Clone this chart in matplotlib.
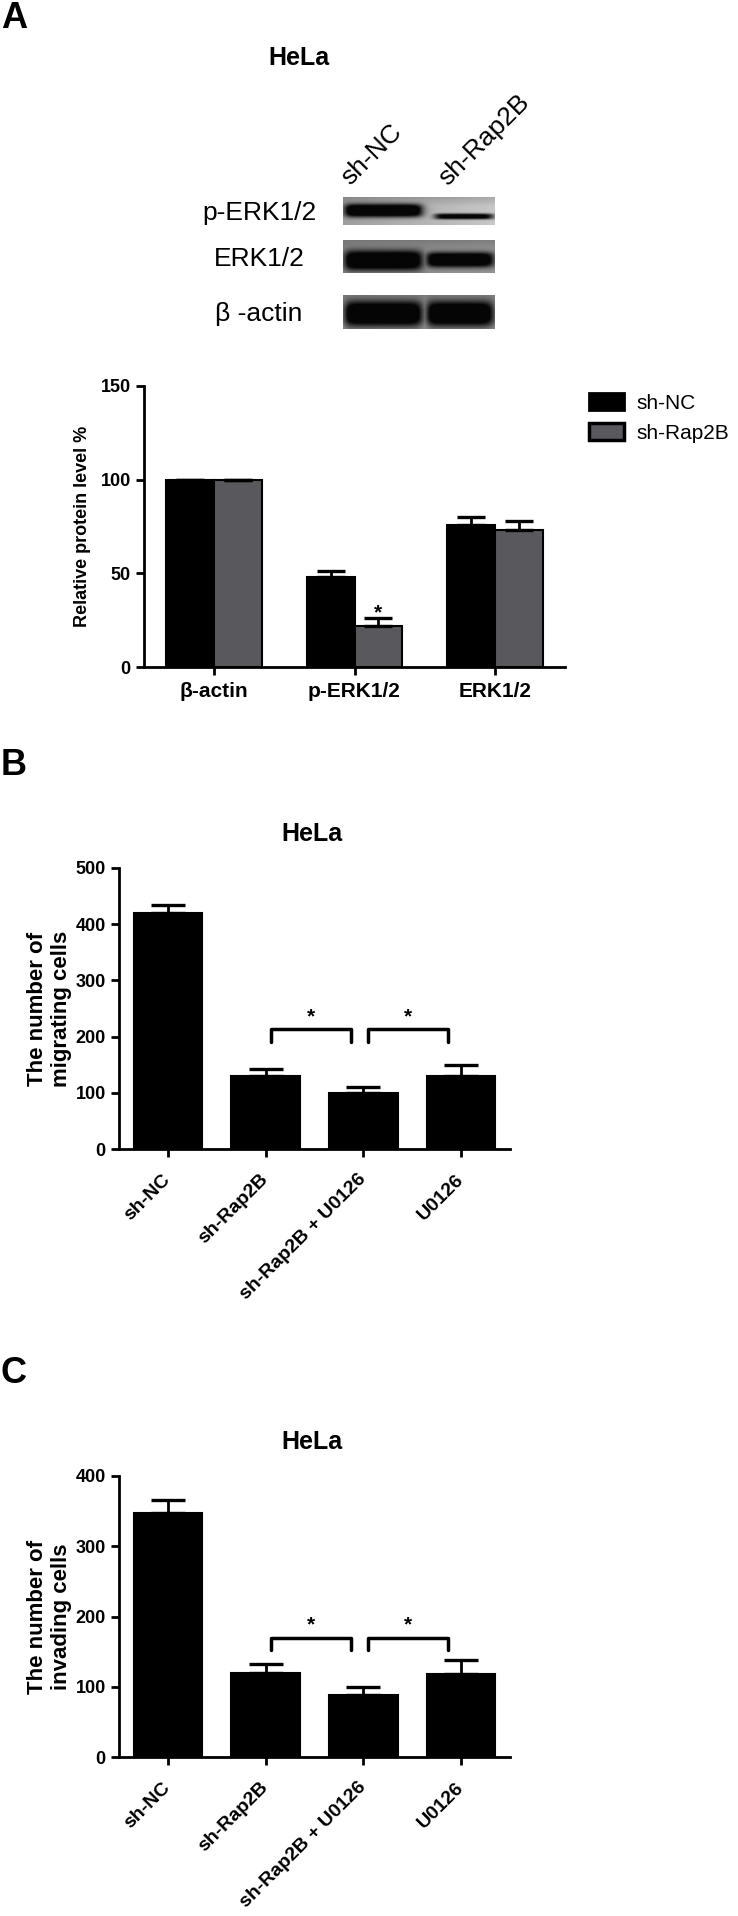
import numpy as np
import matplotlib
matplotlib.use('Agg')
import matplotlib.pyplot as plt
from matplotlib.patches import Patch

plt.rcParams['font.family'] = ['Liberation Sans', 'DejaVu Sans']

# panel A: western blot quantification
proteins = ['β-actin', 'p-ERK1/2', 'ERK1/2']
nc_level = [100, 48, 76]
nc_err = [0, 3, 4]
rap_level = [100, 22, 73]
rap_err = [0, 4, 5]
series_names = ['sh-NC', 'sh-Rap2B']

# blot bands, one entry per row, [sh-NC lane, sh-Rap2B lane]
blot_rows = ['p-ERK1/2', 'ERK1/2', 'β -actin']
blot_lanes = ['sh-NC', 'sh-Rap2B']
band_strength = [[1.0, 0.8], [1.0, 1.0], [1.0, 1.0]]
band_half = [[0.25, 0.11], [0.32, 0.24], [0.40, 0.40]]
band_center = [[0.48, 0.70], [0.62, 0.60], [0.55, 0.55]]
blot_bg = [[0.60, 0.76], [0.52, 0.56], [0.56, 0.58]]

# panels B and C
groups = ['sh-NC', 'sh-Rap2B', 'sh-Rap2B + U0126', 'U0126']
migrating = [420, 130, 100, 130]
migrating_err = [15, 12, 10, 20]
invading = [348, 120, 88, 118]
invading_err = [18, 13, 12, 20]
sig_pairs = [(1, 2), (2, 3)]
sig_mig = 213
sig_inv = 170

W, H = 738, 1916
GRAY = '#59595d'


def fx(x):
    return x / W


def fy(y):
    return 1 - y / H


def axes_px(fig, x0, x1, y0, y1):
    return fig.add_axes([fx(x0), fy(y1), (x1 - x0) / W, (y1 - y0) / H])


def style(ax, ymax, step):
    for s in ['top', 'right']:
        ax.spines[s].set_visible(False)
    for s in ['left', 'bottom']:
        ax.spines[s].set_linewidth(2)
    ax.set_ylim(0, ymax)
    ax.set_yticks(np.arange(0, ymax + 1, step))
    ax.tick_params(width=2, length=6, labelsize=13)
    for lbl in ax.get_yticklabels():
        lbl.set_fontweight('bold')


def sig(v):
    return 1 / (1 + np.exp(-v))


def band_image(r, h, w=152):
    yy = np.linspace(0, 1, h)[:, None]
    xx = np.arange(w)[None, :]
    lanes = [(0, 80), (90 if r == 0 else 82, 151)]
    bg = blot_bg[r][0] + (blot_bg[r][1] - blot_bg[r][0]) * xx / w
    bg = bg * (0.85 + 0.15 * np.clip(yy * 3, 0, 1))
    dark = np.zeros((h, w))
    for k, (a, b) in enumerate(lanes):
        hprof = sig((xx - a - 2) / 2.5) * sig((b - xx - 2) / 3.0)
        vprof = np.exp(-np.abs((yy - band_center[r][k]) / band_half[r][k]) ** 3)
        dark = np.maximum(dark, band_strength[r][k] * hprof * vprof)
    return bg * (1 - np.clip(dark * 1.4, 0, 1)) + 0.02


def bars_panel(ax, values, errs, ymax, step, ylabel, sig_y, leg):
    x = np.arange(len(values))
    ax.bar(x, values, 0.7, color='black', edgecolor='black', lw=1.5)
    ax.errorbar(x, values, yerr=[np.zeros(len(errs)), errs], fmt='none',
                ecolor='black', elinewidth=2, capsize=12, capthick=2.4)
    style(ax, ymax, step)
    ax.set_xlim(-0.5, len(values) - 0.5)
    ax.set_xticks(x)
    ax.set_xticklabels(groups, rotation=45, ha='right', va='center',
                       rotation_mode='anchor', fontsize=14, fontweight='bold')
    ax.tick_params(axis='x', pad=14)
    ax.set_ylabel(ylabel, fontsize=16, fontweight='bold')
    ax.yaxis.set_label_coords(-0.12, 0.5)
    for i, j in sig_pairs:
        x1, x2 = i + 0.05, j - 0.13
        ax.plot([x1, x1, x2, x2], [sig_y - leg, sig_y, sig_y, sig_y - leg],
                color='black', lw=2.5, solid_capstyle='round')
        ax.annotate('*', ((x1 + x2) / 2, sig_y), xytext=(0, 5),
                    textcoords='offset points', ha='center', va='baseline',
                    fontsize=15, fontweight='bold')


fig = plt.figure(figsize=(W / 100, H / 100), dpi=100)

# panel letters and titles
for letter, base in [('A', 28), ('B', 775), ('C', 1383)]:
    fig.text(fx(1), fy(base), letter, fontsize=26, fontweight='bold', va='baseline')
for xc, base in [(299, 65), (312, 841), (312, 1449)]:
    fig.text(fx(xc), fy(base), 'HeLa', fontsize=18, fontweight='bold',
             ha='center', va='baseline')

# blot
strips = [(197, 225), (240, 273), (295, 329)]
for r, (y0, y1) in enumerate(strips):
    bax = axes_px(fig, 343, 495, y0, y1)
    bax.imshow(band_image(r, y1 - y0), cmap='gray', vmin=0, vmax=1,
               aspect='auto', interpolation='bilinear')
    bax.axis('off')
    fig.text(fx(259), fy((y0 + y1) / 2 + 2), blot_rows[r], fontsize=19,
             ha='center', va='center')
for xl, lane in zip([354, 451], blot_lanes):
    fig.text(fx(xl), fy(190), lane, fontsize=19, rotation=45,
             rotation_mode='anchor', ha='left', va='bottom')

# panel A bars
axA = axes_px(fig, 144, 565, 386, 667)
xa = np.arange(len(proteins))
bw = 0.34
axA.bar(xa - bw / 2, nc_level, bw, color='black', edgecolor='black', lw=1.5, label=series_names[0])
axA.bar(xa + bw / 2, rap_level, bw, color=GRAY, edgecolor='black', lw=1.5, label=series_names[1])
axA.errorbar(xa - bw / 2, nc_level, yerr=[np.zeros(3), nc_err], fmt='none',
             ecolor='black', elinewidth=2, capsize=10, capthick=2.4)
axA.errorbar(xa + bw / 2, rap_level, yerr=[np.zeros(3), rap_err], fmt='none',
             ecolor='black', elinewidth=2, capsize=10, capthick=2.4)
axA.text(1 + bw / 2, rap_level[1] + rap_err[1], '*', ha='center', va='baseline',
         fontsize=15, fontweight='bold')
style(axA, 150, 50)
axA.set_xlim(-0.5, 2.5)
axA.set_xticks(xa)
axA.set_xticklabels(proteins, fontsize=15, fontweight='bold')
axA.tick_params(axis='x', pad=5)
axA.set_ylabel('Relative protein level %', fontsize=13, fontweight='bold')
axA.yaxis.set_label_coords(-0.125, 0.5)

handles = [Patch(facecolor='black', edgecolor='black', lw=2),
           Patch(facecolor=GRAY, edgecolor='black', lw=2.5)]
fig.legend(handles, series_names, loc='upper left', bbox_to_anchor=(fx(589), fy(393)),
           frameon=False, fontsize=15, handlelength=1.68, handleheight=0.87,
           handletextpad=0.6, labelspacing=0.5, borderpad=0, borderaxespad=0)

# panel B
axB = axes_px(fig, 119, 510, 868, 1149)
bars_panel(axB, migrating, migrating_err, 500, 100, 'The number of\nmigrating cells', sig_mig, 23)

# panel C
axC = axes_px(fig, 119, 510, 1476, 1757)
bars_panel(axC, invading, invading_err, 400, 100, 'The number of\ninvading cells', sig_inv, 18)

fig.savefig('out.png', dpi=100)
